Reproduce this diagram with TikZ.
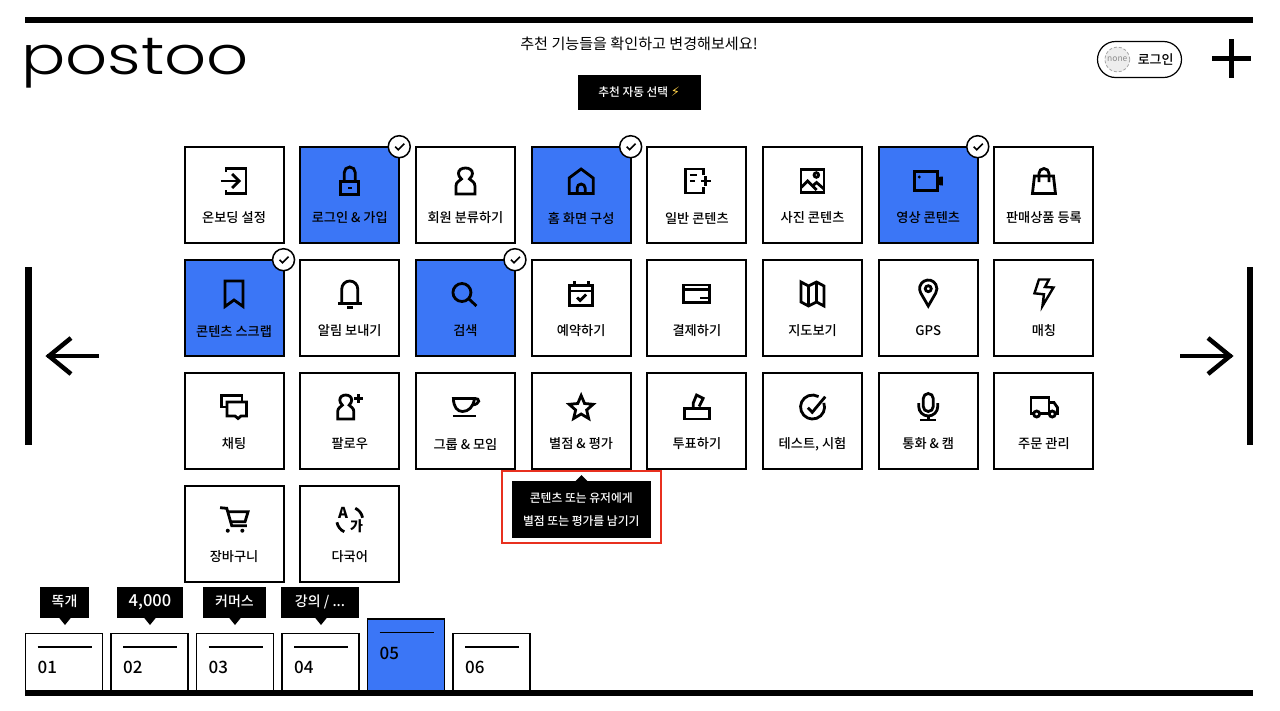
\documentclass[tikz,border=0pt]{standalone}
\usepackage{fontspec}
\setmainfont{Noto Sans CJK KR}
\newfontfamily\medfont{Noto Sans CJK KR Medium}
\newfontfamily\logofont{Poppins Light}
\newfontfamily\boltfont{DejaVu Sans}
\definecolor{blu}{HTML}{3B76F6}
\definecolor{redbox}{HTML}{E8301F}
\definecolor{bolty}{HTML}{FFD24A}
\tikzset{
  cellbox/.style={draw=black,line width=2pt,minimum width=99pt,minimum height=96pt,inner sep=0pt,fill=white},
  celllabel/.style={font=\medfont\fontsize{13.2}{15}\selectfont,inner sep=0pt,text=black},
  icon/.style={draw=black,line width=2.8pt,line join=miter,fill=none},
  badge/.style={circle,draw=black,line width=1.5pt,fill=white,minimum size=22pt,inner sep=0pt},
  tabbox/.style={draw=black,line width=1.5pt,minimum width=77pt,inner sep=0pt,fill=white},
  tabnum/.style={font=\medfont\fontsize{17}{19}\selectfont,inner sep=0pt,anchor=west},
  tipbox/.style={fill=black,text=white,inner sep=0pt,minimum height=31pt,text height=12pt,text depth=3.5pt,font=\medfont\fontsize{14}{16}\selectfont},
}
\newcommand{\iconperson}{%
  \draw[icon] (-9.5,13) -- (9.5,13) -- (9.5,5) .. controls (9.5,1) and (6,0) .. (4,-2) .. controls (6,-4) and (7,-5.5) .. (7,-7.5) .. controls (7,-11) and (4,-13) .. (0,-13) .. controls (-4,-13) and (-7,-11) .. (-7,-7.5) .. controls (-7,-5.5) and (-6,-4) .. (-4,-2) .. controls (-6,0) and (-9.5,1) .. (-9.5,5) -- cycle;}
\newcommand{\iconenter}{%
  \draw[icon] (-8,-9) -- (-8,-12.5) -- (12,-12.5) -- (12,12.5) -- (-8,12.5) -- (-8,9);
  \draw[icon] (-13.5,0) -- (5,0);
  \draw[icon] (-2,-7) -- (5,0) -- (-2,7);}
\newcommand{\iconlock}{%
  \draw[icon] (-9,0.5) rectangle (9,13.5);
  \draw[icon] (-5.5,0) -- (-5.5,-8.5) arc[start angle=180,end angle=360,radius=5.5] -- (5.5,0);
  \fill (-2,5.5) rectangle (2,8);}
\newcommand{\iconhouse}{%
  \draw[icon] (-12,12.5) -- (12,12.5) -- (12,-3) -- (0,-12) -- (-12,-3) -- cycle;
  \draw[icon] (-4,12.5) -- (-4,7) arc[start angle=180,end angle=360,radius=4] -- (4,12.5);}
\newcommand{\icondoc}{%
  \draw[icon] (6.5,-6) -- (6.5,-12) -- (-11.5,-12) -- (-11.5,12) -- (6.5,12) -- (6.5,6);
  \draw[icon] (-7,-6) -- (0,-6);
  \draw[icon] (-7,0) -- (-2,0);
  \draw[icon] (4,0) -- (14,0);
  \draw[icon] (9,-5) -- (9,5);}
\newcommand{\iconimage}{%
  \draw[icon] (-11.5,-11.5) rectangle (11.5,11.5);
  \draw[icon] (3.8,-6) circle[radius=2.3];
  \draw[icon] (-11.5,6.5) -- (-5,0) -- (4,9);
  \draw[icon] (0.5,4.5) -- (4,1.5) -- (11.5,8);}
\newcommand{\iconvideo}{%
  \draw[icon] (-13.5,-9.5) rectangle (9,9.5);
  \fill (9.5,-4) -- (14.5,-4.5) -- (14.5,4.5) -- (9.5,4) -- cycle;
  \fill (-9,-4) circle[radius=1.6];}
\newcommand{\iconbag}{%
  \draw[icon] (-9.5,-5) -- (9.5,-5) -- (11.5,12.5) -- (-11.5,12.5) -- cycle;
  \draw[icon] (-5,1) -- (-5,-7.5) arc[start angle=180,end angle=360,radius=5] -- (5,1);}
\newcommand{\iconbookmark}{%
  \draw[icon] (-9,-13) -- (9,-13) -- (9,12.5) -- (0,6) -- (-9,12.5) -- cycle;}
\newcommand{\iconbell}{%
  \draw[icon] (-8,9) -- (-8,-5) arc[start angle=180,end angle=360,radius=8] -- (8,9);
  \draw[icon] (-12,9.5) -- (12,9.5);
  \draw[icon] (-3,13.2) -- (3,13.2);}
\newcommand{\iconsearch}{%
  \draw[icon] (-3.5,-1.5) circle[radius=9];
  \draw[icon] (3.5,5) -- (11,12);}
\newcommand{\iconcal}{%
  \draw[icon] (-11.5,-8.5) rectangle (11.5,11.5);
  \draw[icon] (-11.5,-3) -- (11.5,-3);
  \draw[icon] (-6.7,-13) -- (-6.7,-7);
  \draw[icon] (7.3,-13) -- (7.3,-7);
  \draw[icon] (-4,3.5) -- (-1,6.5) -- (5,0.5);}
\newcommand{\iconcard}{%
  \draw[icon] (-13,-9) rectangle (13,8.5);
  \draw[icon] (-13,-4.5) -- (13,-4.5);
  \fill (3,2.5) rectangle (11,5);}
\newcommand{\iconmap}{%
  \draw[icon] (-11.5,-12) -- (-4,-8) -- (4,-12) -- (11.5,-8) -- (11.5,12) -- (4,8) -- (-4,12) -- (-11.5,8) -- cycle;
  \draw[icon] (-4,-8) -- (-4,12);
  \draw[icon] (4,-12) -- (4,8);}
\newcommand{\iconpin}{%
  \draw[icon] (0,12) -- (-7.5,-1) arc[start angle=150,end angle=390,radius=8.66] -- cycle;
  \draw[icon] (0,-5.3) circle[radius=3];}
\newcommand{\iconbolt}{%
  \draw[icon,line width=2.4pt] (-5,-14.5) -- (5,-14.5) -- (1,-7) -- (9.5,-6.5) -- (-1.5,12) -- (0,0.3) -- (-9.5,-0.7) -- cycle;}
\newcommand{\iconchat}{%
  \draw[icon] (-7,0) -- (-12.5,0) -- (-12.5,-11.5) -- (8,-11.5) -- (8,-5);
  \draw[icon] (-7,-5) -- (12.5,-5) -- (12.5,9) -- (7,9) -- (4,11.5) -- (1,9) -- (-7,9) -- cycle;}
\newcommand{\iconfollow}{%
  \begin{scope}[shift={(-4,0)},xscale=.85,yscale=.92]\iconperson\end{scope}
  \draw[icon] (4.5,-8.7) -- (13.5,-8.7);
  \draw[icon] (9,-13.2) -- (9,-4.2);}
\newcommand{\iconcup}{%
  \draw[icon] (-12,-8.5) .. controls (-12,0) and (-8,4.5) .. (-3,4.5) .. controls (3,4.5) and (8,0) .. (9,-8.5) -- cycle;
  \draw[icon] (9,-8.5) .. controls (15,-9) and (15,-3) .. (7,-2);
  \draw[icon] (-12.5,9) -- (11,9);}
\newcommand{\iconstar}{%
  \draw[icon] (0,-11.5) -- (3.4,-3.5) -- (12,-2.7) -- (5.5,3) -- (7.5,11.5) -- (0,7) -- (-7.5,11.5) -- (-5.5,3) -- (-12,-2.7) -- (-3.4,-3.5) -- cycle;}
\newcommand{\iconballot}{%
  \draw[icon] (-12.5,1.5) rectangle (13,12);
  \draw[icon] (-3.7,1.5) -- (-3.7,-3.7) -- (-0.3,-12) -- (6.3,-8.7) -- (2.3,-0.5);}
\newcommand{\iconcheck}{%
  \draw[icon] (0,0) ++(-20:12) arc[start angle=-20,end angle=300,radius=12];
  \draw[icon] (-4.7,0.7) -- (-0.3,5.3) -- (12.7,-10.3);}
\newcommand{\iconmic}{%
  \draw[icon] (-5,-8.5) arc[start angle=180,end angle=360,radius=5] -- (5,-0.5) arc[start angle=0,end angle=180,radius=5] -- cycle;
  \draw[icon] (-9.5,-4) -- (-9.5,-0.5) arc[start angle=180,end angle=0,radius=9.5] -- (9.5,-4);
  \draw[icon] (0,9) -- (0,12.5);
  \draw[icon] (-8,13) -- (8,13);}
\newcommand{\icontruck}{%
  \draw[icon] (-10,6.5) -- (-13,6.5) -- (-13,-9.5) -- (5,-9.5) -- (5,6.5) -- (-4,6.5);
  \draw[icon] (5,-4.5) -- (10,-4.5) -- (13.5,0.5) -- (13.5,6.5) -- (12,6.5);
  \draw[icon] (-7.3,7) circle[radius=3];
  \draw[icon] (8.3,7) circle[radius=3];}
\newcommand{\iconcart}{%
  \draw[icon] (-14,-12.3) -- (-7.3,-11.7) -- (-2.3,5.7) -- (12.7,5.7);
  \draw[icon] (-6.3,-8.3) -- (14,-8.3) -- (11,1.7) -- (-4,1.7);
  \fill (-6.3,10.7) circle[radius=2];
  \fill (8.3,10.7) circle[radius=2];}
\newcommand{\icontrans}{%
  \node[inner sep=0pt,font=\fontsize{15}{15}\selectfont\bfseries] at (-6.7,-6.7) {A};
  \node[inner sep=0pt,font=\fontsize{14}{14}\selectfont\bfseries] at (6.7,6.7) {가};
  \draw[icon] (0,0) ++(-65:13) arc[start angle=-65,end angle=-10,radius=13];
  \draw[icon] (0,0) ++(115:13) arc[start angle=115,end angle=170,radius=13];}
\newcommand{\featcell}[6]{%
  \pgfmathsetmacro{\cx}{234.05+115.7*#2}
  \pgfmathsetmacro{\cy}{195.2+113*#3}
  \pgfmathsetmacro{\iy}{181+113*#3}
  \pgfmathsetmacro{\ly}{218+113*#3}
  \node[cellbox,#5] (#1) at (\cx,\cy) {};
  \node[celllabel] (#1lab) at (\cx,\ly) {#4};
  \begin{scope}[shift={(\cx,\iy)}]#6\end{scope}}
\newcommand{\checkbadge}[1]{%
  \node[badge] (#1bad) at ([xshift=-1pt,yshift=-0.5pt]#1.north east) {};
  \begin{scope}[shift={(#1bad.center)}]
    \draw[line width=1.6pt] (-4,0) -- (-1,3) -- (5,-3);
  \end{scope}}
\newcommand{\tabitem}[5]{% name, left x, top y, num, fill
  \pgfmathsetmacro{\tcx}{#2+38.5}
  \pgfmathsetmacro{\tcy}{(#3+692)/2}
  \pgfmathsetmacro{\tht}{692-#3}
  \node[tabbox,minimum height=\tht pt,#5] (#1) at (\tcx,\tcy) {};
  \draw[line width=1.5pt] (#2+12,#3+13.5) -- (#2+66,#3+13.5);
  \node[tabnum] (#1n) at (#2+12,#3+34) {#4};}
\newcommand{\tipitem}[5]{% name, left, right, tip x, text
  \pgfmathsetmacro{\tcx}{(#2+#3)/2}
  \pgfmathsetmacro{\twd}{#3-#2}
  \node[tipbox,minimum width=\twd pt] (#1) at (\tcx,602.5) {#5};
  \fill (#4-6.5,617) -- (#4,625) -- (#4+6.5,617) -- cycle;}
\begin{document}
\begin{tikzpicture}[x=1pt,y=-1pt]
\useasboundingbox (0,0) rectangle (1280,710);
\fill[white] (0,0) rectangle (1280,710);
% top bar
\fill (25,17) rectangle (1253,23);
% logo
\node[inner sep=0pt,anchor=base west,xscale=1.24,transform shape,font=\logofont\fontsize{53}{53}\selectfont] (logo) at (21,74.5) {postoo};
% title & button
\node[inner sep=0pt,font=\fontsize{15.1}{17}\selectfont] (title) at (639,43.5) {추천 기능들을 확인하고 변경해보세요!};
\node[fill=black,minimum width=123pt,minimum height=35pt,inner sep=0pt,text=white,font=\medfont\fontsize{11.7}{13}\selectfont] (auto) at (639.2,92.5) {추천 자동 선택 {\boltfont\fontsize{13}{13}\selectfont\color{bolty}⚡}};
% login
\node[draw=black,line width=1.2pt,rounded corners=18pt,minimum width=84pt,minimum height=36pt,inner sep=0pt] (login) at (1139.5,59.5) {};
\node[circle,draw=black!35,densely dashed,line width=.8pt,fill=black!7,minimum size=25pt,inner sep=0pt,text=black!45,font=\fontsize{8.5}{9}\selectfont] (none) at (1117.3,59.5) {none};
\node[inner sep=0pt,font=\medfont\fontsize{13}{15}\selectfont] (loginlab) at (1155.7,59.5) {로그인};
% plus
\fill (1211.5,56) rectangle (1251,61);
\fill (1228.7,39) rectangle (1233.7,78);
% side arrows
\fill (25,267) rectangle (31.5,445);
\fill (1246.5,267) rectangle (1253,445);
\draw[line width=4.5pt] (47,356) -- (99,356);
\draw[line width=4.5pt] (71,338) -- (49,356) -- (71,374);
\draw[line width=4.5pt] (1180,356) -- (1232,356);
\draw[line width=4.5pt] (1208,338) -- (1230,356) -- (1208,374);
% cells
\featcell{a0}{0}{0}{온보딩 설정}{}{\iconenter}
\featcell{a1}{1}{0}{로그인 \& 가입}{fill=blu}{\iconlock}
\featcell{a2}{2}{0}{회원 분류하기}{}{\iconperson}
\featcell{a3}{3}{0}{홈 화면 구성}{fill=blu}{\iconhouse}
\featcell{a4}{4}{0}{일반 콘텐츠}{}{\icondoc}
\featcell{a5}{5}{0}{사진 콘텐츠}{}{\iconimage}
\featcell{a6}{6}{0}{영상 콘텐츠}{fill=blu}{\iconvideo}
\featcell{a7}{7}{0}{판매상품 등록}{}{\iconbag}
\featcell{b0}{0}{1}{콘텐츠 스크랩}{fill=blu}{\iconbookmark}
\featcell{b1}{1}{1}{알림 보내기}{}{\iconbell}
\featcell{b2}{2}{1}{검색}{fill=blu}{\iconsearch}
\featcell{b3}{3}{1}{예약하기}{}{\iconcal}
\featcell{b4}{4}{1}{결제하기}{}{\iconcard}
\featcell{b5}{5}{1}{지도보기}{}{\iconmap}
\featcell{b6}{6}{1}{GPS}{}{\iconpin}
\featcell{b7}{7}{1}{매칭}{}{\iconbolt}
\featcell{c0}{0}{2}{채팅}{}{\iconchat}
\featcell{c1}{1}{2}{팔로우}{}{\iconfollow}
\featcell{c2}{2}{2}{그룹 \& 모임}{}{\iconcup}
\featcell{c3}{3}{2}{별점 \& 평가}{}{\iconstar}
\featcell{c4}{4}{2}{투표하기}{}{\iconballot}
\featcell{c5}{5}{2}{테스트, 시험}{}{\iconcheck}
\featcell{c6}{6}{2}{통화 \& 캠}{}{\iconmic}
\featcell{c7}{7}{2}{주문 관리}{}{\icontruck}
\featcell{d0}{0}{3}{장바구니}{}{\iconcart}
\featcell{d1}{1}{3}{다국어}{}{\icontrans}
% badges
\checkbadge{a1}\checkbadge{a3}\checkbadge{a6}\checkbadge{b0}\checkbadge{b2}
% tooltip
\draw[redbox,line width=2pt] (501.5,470.5) rectangle (660.5,542.5);
\node[fill=black,minimum width=139pt,minimum height=56.5pt,inner sep=0pt,text=white,align=center,font=\medfont\fontsize{11.8}{22}\selectfont] (tip) at (581.3,509.3) {콘텐츠 또는 유저에게\\[1pt]별점 또는 평가를 남기기};
\fill (575,481.5) -- (581.5,475) -- (588,481.5) -- cycle;
% tabs
\tabitem{t1}{25.5}{633.5}{01}{}
\tabitem{t2}{111}{633.5}{02}{}
\tabitem{t3}{196.5}{633.5}{03}{}
\tabitem{t4}{282}{633.5}{04}{}
\tabitem{t5}{367.5}{619}{05}{fill=blu}
\tabitem{t6}{453}{633.5}{06}{}
\fill (25,690) rectangle (1253,696);
% tab tooltips
\tipitem{p1}{40}{89}{65}{똑개}
\tipitem{p2}{117}{183}{150}{\fontsize{16.5}{18}\selectfont 4,000}
\tipitem{p3}{203}{266}{235}{커머스}
\tipitem{p4}{281}{359}{321}{강의 / ...}
\end{tikzpicture}
\end{document}
